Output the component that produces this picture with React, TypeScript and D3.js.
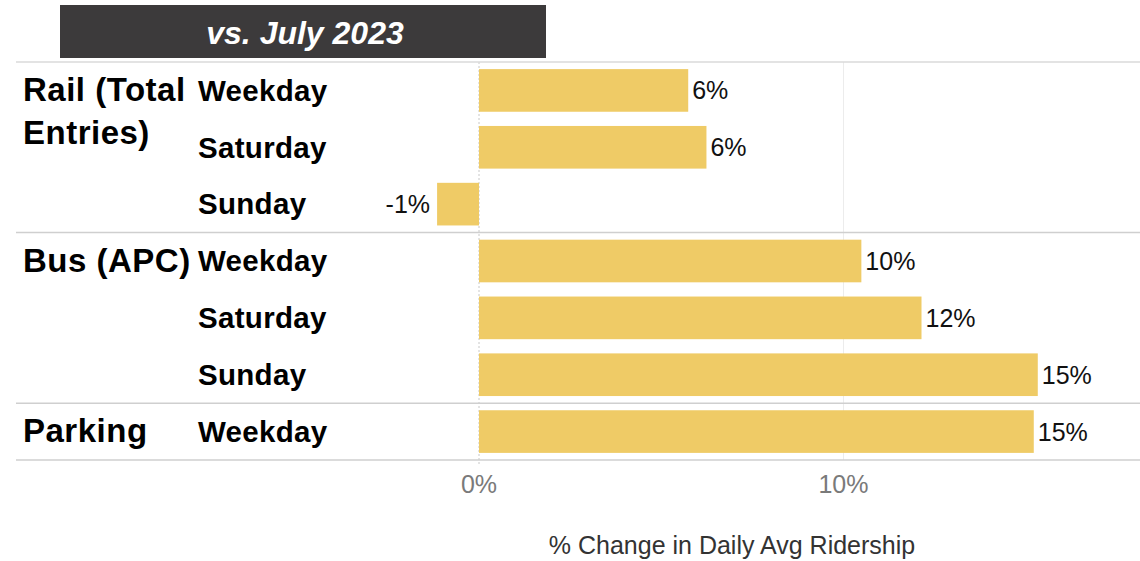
import React from "react";
import * as d3 from "d3";

const groupNames = ["Rail (Total Entries)", "Bus (APC)", "Parking"];
const groupLines = [["Rail (Total", "Entries)"], ["Bus (APC)"], ["Parking"]];
const rowGroup = [0, 0, 0, 1, 1, 1, 2];
const dayLabels = ["Weekday", "Saturday", "Sunday", "Weekday", "Saturday", "Sunday", "Weekday"];
const changePct = [5.74, 6.24, -1.15, 10.49, 12.14, 15.33, 15.22];
const xTicks = [0, 10];

const W = 1140;
const H = 561;
const barColor = "#EFCB66";

function App() {
  const rows = dayLabels.map((_, i) => i);

  const y = d3.scaleBand<number>()
    .domain(rows)
    .range([62, 460])
    .paddingInner(0.25)
    .paddingOuter(0.125);

  // 0% sits at 479px, 10% at 843.5px
  const x = d3.scaleLinear().domain([0, 10]).range([479, 843.5]);

  const fmt = (v: number) => `${Math.round(v)}%`;

  // lines between the groups
  const seps: number[] = [];
  rows.forEach(i => {
    if (i > 0 && rowGroup[i] !== rowGroup[i - 1]) {
      seps.push((y(i - 1)! + y.bandwidth() + y(i)!) / 2);
    }
  });

  const firstRowOf = groupNames.map((_, g) => rowGroup.indexOf(g));

  return (
    <svg width={W} height={H} style={{ position: "absolute", left: 0, top: 0 }}
      fontFamily="'Liberation Sans', Arial, sans-serif">
      <rect width={W} height={H} fill="#fff" />

      {/* title box */}
      <rect x={60} y={5} width={486} height={53} fill="#3c3a3b" />
      <text x={305} y={44} textAnchor="middle" fill="#fff" fontSize={32}
        fontWeight="bold" fontStyle="italic">vs. July 2023</text>

      {/* grid */}
      {xTicks.filter(t => t !== 0).map(t => (
        <line key={t} x1={x(t)} x2={x(t)} y1={62} y2={460} stroke="#ececec" strokeWidth={1} />
      ))}
      <line x1={x(0)} x2={x(0)} y1={62} y2={464} stroke="#c8c8c8" strokeDasharray="2,2" strokeWidth={1} />

      {/* bars */}
      {rows.map(i => {
        const v = changePct[i];
        const x0 = Math.min(x(0), x(v));
        return (
          <g key={i}>
            <rect x={x0} y={y(i)} width={Math.abs(x(v) - x(0))} height={y.bandwidth()} fill={barColor} />
            <text x={v >= 0 ? x(v) + 4 : x(v) - 7} y={y(i)! + y.bandwidth() / 2} dy="0.36em"
              textAnchor={v >= 0 ? "start" : "end"} fontSize={25} fill="#111">{fmt(v)}</text>
            <text x={198} y={y(i)! + y.bandwidth() / 2} dy="0.35em" fontSize={29.5}
              fontWeight="bold" fill="#000" letterSpacing={0.3}>{dayLabels[i]}</text>
          </g>
        );
      })}

      {/* horizontal rules */}
      <line x1={16} x2={W} y1={62} y2={62} stroke="#dadada" strokeWidth={1.5} />
      {seps.map((s, k) => (
        <line key={k} x1={16} x2={W} y1={s} y2={s} stroke="#cfcfcf" strokeWidth={1.5} />
      ))}
      <line x1={16} x2={W} y1={460} y2={460} stroke="#cfcfcf" strokeWidth={1.5} />

      {/* group labels */}
      {groupLines.map((lines, g) => (
        <text key={g} x={23} y={y(firstRowOf[g])! + y.bandwidth() / 2}
          fontSize={33} fontWeight="bold" fill="#000" letterSpacing={0.5}>
          {lines.map((l, k) => (
            <tspan key={k} x={23} dy={k === 0 ? 10.5 : 43}>{l}</tspan>
          ))}
        </text>
      ))}

      {/* x axis */}
      {xTicks.map(t => (
        <text key={t} x={x(t)} y={493} textAnchor="middle" fontSize={25} fill="#7a7a7a">{`${t}%`}</text>
      ))}
      <text x={732} y={554} textAnchor="middle" fontSize={25} fill="#333">% Change in Daily Avg Ridership</text>
    </svg>
  );
}

export default App;
